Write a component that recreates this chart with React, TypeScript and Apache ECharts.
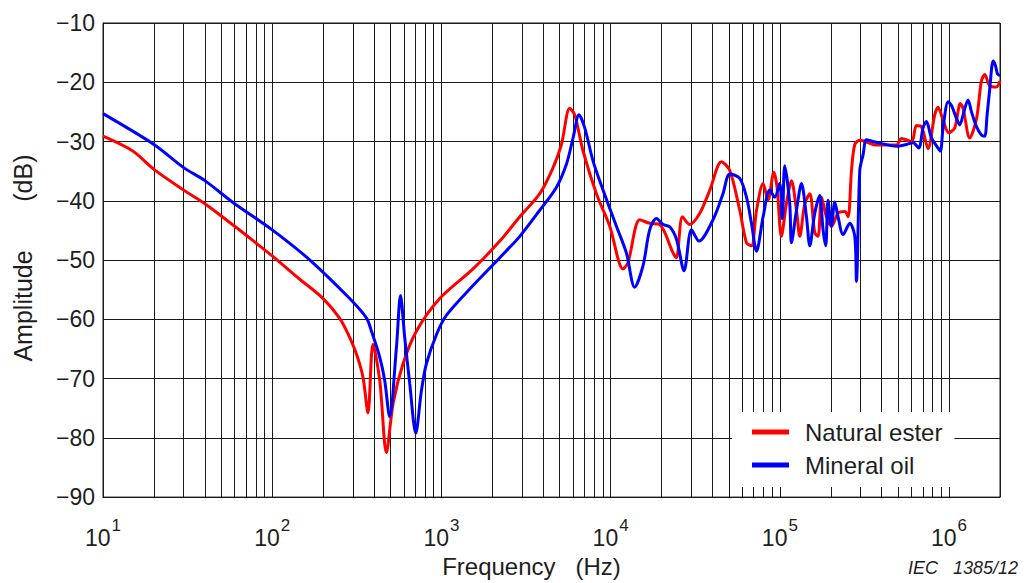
import React, { useEffect, useRef } from "react";
import * as echarts from "echarts";

// Natural ester (red) – frequency in Hz, amplitude in dB
const naturalEsterFreq = [
  10, 15, 20, 30, 40, 60, 80, 100, 145, 200, 250, 281, 315, 344, 368, 394, 432, 473, 518, 593, 711, 977,
  1537, 2213, 2904, 3811, 4570, 5120, 5730, 6135, 6870, 8240, 9880, 11840, 12670, 14860, 17030, 19500,
  23380, 24490, 26560, 29330, 33640, 38550, 45190, 50600, 57950, 63520, 67980, 72810, 79620, 85190,
  92060, 96240, 102100, 109300, 117100, 125400, 131200, 140400, 150300, 160800, 168300, 176300, 188600,
  201800, 220800, 241900, 253100, 265000, 277200, 296700, 372200, 488900, 523300, 599600, 641800,
  687100, 751500, 822500, 860600, 921800, 995900, 1081000, 1165000, 1210000, 1325000, 1452000,
  1553000, 1625000, 1740000, 1906000, 2000000,
];
const naturalEsterDb = [
  -29.1, -31.6, -34.7, -38.2, -40.5, -44.3, -47.1, -49.3, -53.2, -56.5, -59.8, -62.5, -65.9, -69.8, -75.8,
  -64.2, -70.3, -82.5, -74.2, -67.5, -62.0, -56.5, -51.5, -46.8, -42.7, -38.8, -34.4, -30.5, -24.4, -25.5,
  -31.6, -38.8, -44.3, -51.5, -50.4, -43.2, -43.8, -44.0, -48.8, -49.6, -42.7, -44.0, -42.1, -38.2, -33.4,
  -34.9, -41.6, -47.1, -47.6, -41.6, -37.1, -39.9, -35.2, -37.7, -46.0, -40.5, -36.6, -41.6, -46.0, -40.5,
  -38.8, -45.4, -46.0, -39.4, -42.7, -44.3, -42.1, -41.8, -42.7, -34.9, -30.5, -29.8, -30.6, -30.6, -29.5,
  -30.0, -27.3, -27.5, -31.2, -25.5, -24.2, -26.4, -28.5, -27.7, -23.6, -24.4, -29.4, -26.2, -19.8, -18.7,
  -20.6, -20.8, -19.8,
];

// Mineral oil (blue)
const mineralOilFreq = [
  10, 20, 30, 40, 60, 100, 167, 287, 361, 386, 432, 462, 494, 542, 573, 607, 650, 705, 762, 815, 934, 1071,
  1537, 2213, 2904, 3811, 4786, 5483, 5998, 6507, 7030, 7874, 9023, 10820, 12390, 13870, 15530, 17010,
  18650, 20410, 22350, 24490, 27170, 30050, 33300, 40270, 46130, 50600, 57950, 63520, 67980, 72810,
  79620, 87160, 93300, 99800, 103500, 106800, 114400, 117100, 125400, 134200, 143600, 150300, 160800,
  172100, 180000, 186700, 192600, 201800, 211000, 220800, 236400, 259000, 277200, 283600, 296700,
  310500, 325100, 355800, 407600, 488900, 559800, 612800, 662300, 701700, 734800, 787200, 860600,
  889000, 921800, 987200, 1033000, 1106000, 1157000, 1210000, 1295000, 1357000, 1452000, 1553000,
  1625000, 1678000, 1740000, 1822000, 1881000, 1933000, 2000000,
];
const mineralOilDb = [
  -25.3, -30.5, -34.4, -36.6, -40.5, -44.9, -50.0, -56.5, -59.8, -62.0, -66.4, -70.3, -76.4, -64.8, -56.0,
  -63.1, -70.9, -79.2, -72.0, -67.5, -62.6, -59.3, -54.3, -49.6, -46.0, -41.6, -37.7, -33.8, -29.4, -25.5,
  -27.7, -33.3, -38.2, -44.3, -48.8, -54.6, -51.0, -44.9, -43.0, -44.0, -44.4, -46.5, -51.8, -44.9, -46.8,
  -43.2, -38.8, -35.5, -36.2, -39.4, -43.8, -48.5, -42.7, -38.2, -39.4, -37.1, -43.0, -34.1, -40.5, -47.1,
  -41.6, -37.1, -42.7, -47.6, -42.1, -39.1, -44.9, -47.6, -39.9, -44.3, -40.2, -42.7, -45.7, -43.8, -46.0,
  -53.6, -34.9, -32.2, -29.7, -30.0, -30.4, -30.8, -30.5, -30.2, -31.1, -27.7, -26.6, -29.4, -31.1, -31.6,
  -27.7, -23.3, -23.9, -26.1, -27.2, -25.5, -23.0, -25.0, -27.5, -28.9, -29.1, -25.5, -21.1, -16.4, -17.2,
  -18.6, -18.9,
];

const seriesNames = ["Natural ester", "Mineral oil"];
const yTicks = { min: -90, max: -10, step: 10 };
const xRange = { min: 10, max: 2000000 };
const decades = [10, 100, 1000, 10000, 100000];
const multipliers = [2, 3, 4, 5, 6, 7, 8, 9];
const xTitle = "Frequency   (Hz)";
const yTitle = "Amplitude       (dB)";
const credit = "IEC   1385/12";

const FONT = "'Liberation Sans', Arial, Helvetica, sans-serif";
const TXT = "#1e1e1e";
const GRID = "#1a1a1a";

export default function App() {
  const ref = useRef<HTMLDivElement>(null);
  useEffect(() => {
    if (!ref.current) return;
    const chart = echarts.init(ref.current, undefined, { renderer: "svg" });
    const minorLines: { xAxis: number }[] = [];
    decades.forEach((d) => multipliers.forEach((m) => minorLines.push({ xAxis: d * m })));
    const ester = naturalEsterFreq.map((f, i) => [f, naturalEsterDb[i]]);
    const oil = mineralOilFreq.map((f, i) => [f, mineralOilDb[i]]);

    chart.setOption({
      animation: false,
      textStyle: { fontFamily: FONT, color: TXT },
      grid: {
        left: 103,
        top: 23,
        right: 27,
        bottom: 78,
        show: true,
        borderColor: GRID,
        borderWidth: 1,
        containLabel: false,
      },
      legend: {
        data: seriesNames,
        orient: "vertical",
        left: 732,
        top: 412,
        padding: [8, 12, 10, 20],
        itemGap: 9,
        itemWidth: 37,
        itemHeight: 5,
        icon: "rect",
        backgroundColor: "#ffffff",
        z: 10,
        textStyle: {
          fontSize: 24,
          lineHeight: 24,
          color: TXT,
          fontFamily: FONT,
          padding: [0, 0, 0, 11],
        },
      },
      xAxis: {
        type: "log",
        logBase: 10,
        min: xRange.min,
        max: xRange.max,
        name: xTitle,
        nameLocation: "middle",
        nameGap: 50,
        nameTextStyle: { fontSize: 24, color: TXT, fontFamily: FONT, padding: [0, 40, 0, 0] },
        axisLine: { show: true, lineStyle: { color: GRID, width: 1 } },
        axisTick: { show: false },
        splitLine: { show: true, lineStyle: { color: GRID, width: 1 } },
        axisLabel: {
          margin: 12,
          formatter: (v: number) => {
            const e = Math.log10(v);
            if (Math.abs(e - Math.round(e)) > 1e-6) return "";
            return `{b|10}{s|${Math.round(e)}}`;
          },
          rich: {
            b: { fontSize: 23, lineHeight: 40, verticalAlign: "bottom", color: TXT, fontFamily: FONT },
            s: {
              fontSize: 17,
              lineHeight: 17,
              padding: [8, 0, 0, 1],
              verticalAlign: "top",
              color: TXT,
              fontFamily: FONT,
            },
          },
        },
      },
      yAxis: {
        type: "value",
        min: yTicks.min,
        max: yTicks.max,
        interval: yTicks.step,
        name: yTitle,
        nameLocation: "middle",
        nameGap: 68,
        nameTextStyle: { fontSize: 25, color: TXT, fontFamily: FONT, padding: [0, 0, 0, 4] },
        axisLine: { show: true, lineStyle: { color: GRID, width: 1 } },
        axisTick: { show: false },
        splitLine: { show: true, lineStyle: { color: GRID, width: 1 } },
        axisLabel: {
          margin: 8,
          fontSize: 23,
          color: TXT,
          fontFamily: FONT,
          formatter: (v: number) => (v < 0 ? "\u2212" + Math.abs(v) : String(v)),
        },
      },
      graphic: [
        {
          type: "text",
          left: 908,
          top: 559,
          style: { text: credit, fontSize: 18, fontStyle: "italic", fill: TXT, font: `italic 18px ${FONT}` },
        },
      ],
      series: [
        {
          type: "line",
          name: "__grid",
          data: [],
          silent: true,
          z: 1,
          markLine: {
            silent: true,
            z: 1,
            symbol: ["none", "none"],
            label: { show: false },
            lineStyle: { color: GRID, width: 1, type: "solid" },
            emphasis: { disabled: true },
            data: minorLines,
          },
        },
        {
          type: "line",
          name: seriesNames[0],
          data: ester,
          color: "#ff0000",
          showSymbol: false,
          smooth: 0.3,
          z: 3,
          lineStyle: { color: "#ff0000", width: 3 },
        },
        {
          type: "line",
          name: seriesNames[1],
          data: oil,
          color: "#0000ff",
          showSymbol: false,
          smooth: 0.3,
          z: 4,
          lineStyle: { color: "#0000ff", width: 3 },
        },
      ],
    });
    return () => chart.dispose();
  }, []);
  return (
    <div
      ref={ref}
      style={{ position: "fixed", left: 0, top: 0, width: 1027, height: 583, background: "#fff" }}
    />
  );
}
